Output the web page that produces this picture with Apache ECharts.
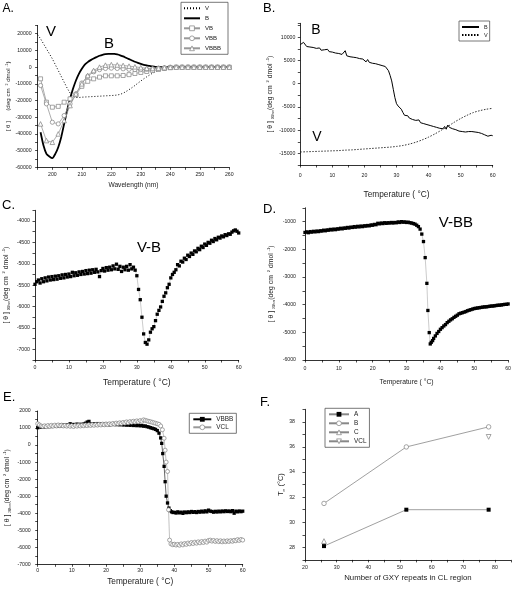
<!DOCTYPE html>
<html><head><meta charset="utf-8">
<script src="https://cdn.jsdelivr.net/npm/echarts@6/dist/echarts.min.js"></script>
<style>html,body{margin:0;padding:0;background:#fff}#c{width:514px;height:589px}</style>
</head><body><div id="c"></div>
<script>
const FONT = '"Liberation Sans", Arial, Helvetica, sans-serif';

// ---------- Panel A: CD spectra (wavelength nm) ----------
const aVStart = 195, aBStart = 196, aMarkStart = 196;
const aV = [19500,17000,14000,11000,8000,5000,1500,-2000,-5500,-9000,-12500,-15500,-17500,-18200,-18200,-18000,-17900,-17800,-17700,-17600,-17500,-17400,-17300,-17200,-17100,-17000,-16900,-16700,-16300,-15600,-14600,-13500,-12300,-11000,-9600,-8300,-7000,-5800,-4700,-3600,-2700,-1900,-1200,-700,-300,-100,0,0,0,0,0,0,0,0,0,0,0,0,0,0,0,0,0,0,0,0];
const aB = [-39000,-47000,-52000,-53500,-54500,-52000,-48000,-42000,-34000,-26000,-19000,-13000,-8000,-4000,-1000,1500,3000,4200,5200,6000,6800,7400,7800,8000,8000,7900,7600,7100,6400,5600,4800,4000,3200,2500,1900,1400,1000,700,400,200,100,0,0,0,0,0,0,0,0,0,0,0,0,0,0,0,0,0,0,0,0,0,0,0,0];
const aVB = [-7000,-21000,-24000,-23500,-21000,-19000,-16500,-11500,-8500,-7000,-6000,-5200,-5200,-5200,-5000,-4500,-3800,-3200,-2600,-2000,-1400,-800,-300,0,0,0,0,0,0,0,0,0,0];
const aVBB = [-11000,-22000,-33000,-34000,-29000,-22000,-16000,-9500,-5500,-2800,-1500,-800,-600,-800,-1000,-1300,-1500,-1500,-1300,-1000,-600,-300,0,0,0,0,0,0,0,0,0,0,0];
const aVBBB = [-34000,-44000,-45000,-40000,-32000,-23000,-16000,-10000,-5000,-2000,0,1200,1500,1300,1000,600,200,-300,-700,-800,-600,-300,-100,0,0,0,0,0,0,0,0,0,0];

// ---------- Panel B: thermal melts at 208 nm ----------
const bB = [8400,8300,8900,8500,8000,8200,7900,8100,7800,7900,
7600,7400,7700,7200,7500,7300,7100,7400,6900,7200,
6800,7000,6600,6900,6500,6700,6300,6600,7100,6000,
6200,5800,6100,5700,5900,5600,5800,5400,5700,5300,
5500,4700,5200,4600,4900,4400,4800,4300,4600,4100,
4500,3900,4200,3700,3500,2800,1800,600,-1200,-3000,
-4300,-4800,-5000,-5500,-6200,-6800,-7100,-6900,-7400,-7200,
-7700,-7500,-7900,-8100,-7800,-8400,-8200,-8600,-8300,-8800,
-8500,-9000,-8700,-9200,-8900,-9400,-9100,-9600,-9300,-9700,
-9200,-9800,-8900,-9400,-9200,-9700,-9400,-9900,-9600,-10200,
-9800,-10300,-10000,-10400,-10100,-10300,-9900,-10300,-10000,-10400,
-10200,-10500,-10400,-10700,-10600,-11000,-10800,-11300,-11700,-11100,
-11200];
const bV = [-14700,-14650,-14600,-14550,-14500,-14450,-14400,-14300,-14250,-14150,-14050,-13950,-13850,-13750,-13650,-13500,-13300,-13000,-12600,-12100,-11500,-10800,-10000,-9200,-8300,-7500,-6800,-6200,-5800,-5500,-5300];

// ---------- Panel C: V-B ----------
const cVB = [-5480,-5420,-5380,-5450,-5350,-5420,-5330,-5400,-5310,-5380,
-5300,-5370,-5290,-5360,-5280,-5340,-5260,-5330,-5250,-5310,
-5240,-5300,-5200,-5280,-5210,-5270,-5190,-5250,-5180,-5240,
-5160,-5230,-5150,-5220,-5140,-5200,-5130,-5190,-5300,-5160,
-5110,-5170,-5090,-5150,-5080,-5140,-5050,-5120,-5010,-5130,
-5060,-5180,-5080,-5140,-5060,-5150,-5020,-5120,-5080,-5150,
-5280,-5600,-5840,-6250,-6640,-6840,-6880,-6780,-6600,-6520,
-6470,-6330,-6180,-6090,-6010,-5880,-5760,-5680,-5560,-5480,
-5330,-5250,-5200,-5140,-5020,-5050,-4940,-4960,-4870,-4900,
-4800,-4830,-4750,-4780,-4700,-4720,-4640,-4670,-4590,-4620,
-4540,-4570,-4500,-4520,-4450,-4480,-4410,-4440,-4380,-4400,
-4350,-4370,-4320,-4340,-4300,-4310,-4260,-4230,-4210,-4240,
-4280];

// ---------- Panel D: V-BB ----------
const dPre = [-1390,-1370,-1400,-1360,-1380,-1350,-1370,-1340,-1360,-1330,
-1340,-1310,-1330,-1300,-1310,-1280,-1300,-1270,-1290,-1260,
-1270,-1240,-1260,-1230,-1240,-1210,-1230,-1200,-1210,-1180,
-1200,-1170,-1190,-1160,-1180,-1150,-1160,-1140,-1150,-1120,
-1130,-1100,-1110,-1060,-1080,-1050,-1070,-1040,-1060,-1040,
-1050,-1030,-1050,-1030,-1040,-1010,-1030,-1000,-1020,-1010,
-1030,-1020,-1040,-1050,-1070,-1090,-1130,-1180];
const dTransT = [34,34.5,35,35.5,36,36.3,36.7,37,37.3,37.7];
const dTransV = [-1270,-1450,-1720,-2300,-3230,-4210,-5010,-5420,-5360,-5300];
const dPost = [-5220,-5130,-5040,-4970,-4890,-4830,-4770,-4720,-4650,-4600,
-4550,-4510,-4460,-4420,-4380,-4330,-4310,-4290,-4270,-4250,
-4220,-4200,-4180,-4160,-4140,-4130,-4120,-4110,-4100,-4090,
-4080,-4080,-4070,-4060,-4050,-4050,-4040,-4030,-4020,-4020,
-4010,-4000,-3990,-3990,-3975];

// ---------- Panel E: VBBB vs VCL ----------
const eBPre = [1020,1080,1050,1100,1060,1120,1080,1130,1090,1140,
1110,1150,1120,1170,1130,1180,1150,1190,1160,1250,
1180,1210,1170,1230,1190,1220,1200,1240,1280,1350,
1390,1230,1210,1250,1230,1260,1220,1250,1210,1240,
1200,1230,1190,1240,1210,1250,1200,1230,1190,1220,
1180,1210,1170,1200,1160,1190,1150,1180,1140,1170,
1130,1150,1110,1120,1080,1060,1020,990,960];
const eBTransT = [34.5,35,35.5,36,36.3,36.6,37,37.3,37.6,38,38.4,38.8,39.2,39.6];
const eBTransV = [920,850,700,420,100,-500,-1250,-2150,-3000,-3400,-3700,-3850,-3920,-3960];
const eBPost = [-3950,-3990,-3920,-3980,-3940,-4010,-3930,-3970,-3920,-3960,
-3900,-3950,-3910,-3960,-3900,-3940,-3880,-3930,-3860,-3920,
-3820,-3880,-3900,-3940,-3890,-3930,-3880,-3920,-3870,-3910,
-3860,-3900,-3870,-3910,-3850,-4000,-3880,-3920,-3870,-3910,
-3880];
const eCPre = [1250,1180,1120,1090,1130,1080,1150,1100,1160,1110,
1170,1120,1180,1130,1170,1120,1160,1110,1150,1100,
1140,1090,1150,1110,1160,1120,1170,1130,1180,1140,
1190,1150,1200,1160,1210,1170,1220,1180,1230,1190,
1240,1200,1250,1210,1270,1230,1290,1250,1310,1270,
1330,1290,1360,1310,1380,1340,1400,1350,1420,1370,
1440,1400,1480,1450,1420,1390,1370,1340,1310,1280,1250];
const eCTransT = [35.5,36,36.5,37,37.3,37.6,38,38.3,38.6,39];
const eCTransV = [1220,1120,900,400,-300,-1000,-1550,-3800,-5580,-5800];
const eCPost = [-5850,-5820,-5870,-5830,-5880,-5800,-5860,-5780,-5830,-5750,
-5800,-5720,-5780,-5700,-5760,-5680,-5740,-5660,-5720,-5640,
-5700,-5600,-5580,-5640,-5600,-5660,-5610,-5670,-5620,-5680,
-5630,-5670,-5620,-5660,-5610,-5650,-5590,-5620,-5550,-5600,
-5540,-5580];

// ---------- Panel F: Tm vs repeats ----------
const fRepeats = [26, 52, 78];
const fA = [28.1, 31, 31];
const fB = [31.5, 36, 37.6];
const fCRepeats = [26];
const fC = [28.5];
const fVCLRepeats = [78];
const fVCL = [36.8];

// ---------- helpers ----------
function seq(start, step, vals) { return vals.map((v, i) => [+(start + i * step).toFixed(3), v]); }
function zip(xs, ys) { return xs.map((x, i) => [x, ys[i]]); }

const grids = [
  {left: 37.6, top: 25.4, width: 191.7, height: 141.9},
  {left: 300.3, top: 23.3, width: 192.4, height: 141.7},
  {left: 35, top: 210.3, width: 203.7, height: 149.7},
  {left: 305, top: 207.8, width: 206.7, height: 152.2},
  {left: 37.7, top: 411, width: 205, height: 153.3},
  {left: 305, top: 409.3, width: 205.8, height: 150.6}
];

function fmtEvery(every) {
  return v => (Math.abs(Math.round(v / every) * every - v) < 1e-6 ? String(v) : '');
}
const axisLine = {show: true, onZero: false, lineStyle: {color: '#000', width: 0.8}};
const axisTick = {show: true, inside: false, length: 2.5, lineStyle: {color: '#000', width: 0.7}};

function xAx(gi, min, max, interval, every, name, nameSize, nameGap, margin) {
  return {type: 'value', gridIndex: gi, min, max, interval, axisLine, axisTick,
    splitLine: {show: false},
    axisLabel: {fontSize: 5.2, color: '#222', fontFamily: FONT, margin, formatter: fmtEvery(every)},
    name, nameLocation: 'middle', nameGap,
    nameTextStyle: {fontSize: nameSize, color: '#222', fontFamily: FONT}};
}
function richFor(fs) {
  return {
    t: {fontSize: fs, fontFamily: FONT, color: '#222', lineHeight: fs * 1.3},
    sup: {fontSize: fs * 0.6, fontFamily: FONT, color: '#222', verticalAlign: 'top'},
    sub: {fontSize: fs * 0.45, fontFamily: FONT, color: '#222', verticalAlign: 'bottom'}
  };
}
function yAx(gi, min, max, interval, every, name, nameSize, nameGap, margin) {
  return {type: 'value', gridIndex: gi, min, max, interval, axisLine, axisTick,
    splitLine: {show: false},
    axisLabel: {fontSize: 5.2, color: '#222', fontFamily: FONT, margin, formatter: fmtEvery(every)},
    name, nameLocation: 'middle', nameGap, nameRotate: 90,
    nameTextStyle: {fontSize: nameSize, color: '#222', fontFamily: FONT, rich: richFor(nameSize)}};
}
const thetaName = '{t|[ θ ]}{t|      }{t|(deg cm }{sup| 2}{t| dmol }{sup|-1}{t|)}';
const thetaSubName = '{t|[ θ ]}{t| }{sub|208nm}{t|(deg cm }{sup| 2}{t| dmol }{sup|-1}{t|)}';
const tName = 'Temperature ( °C)';

const xAxis = [
  xAx(0, 195, 260, 5, 10, 'Wavelength (nm)', 6.6, 14, 5),
  xAx(1, 0, 60, 5, 10, tName, 8.3, 26, 8),
  xAx(2, 0, 60, 5, 10, tName, 8.5, 18, 5),
  xAx(3, 0, 60, 5, 10, tName, 6.8, 19, 6),
  xAx(4, 0, 60, 5, 10, tName, 8.3, 13, 4),
  xAx(5, 20, 85, 5, 10, 'Number of GXY repeats in CL region', 7.8, 14, 5)
];
const yAxis = [
  yAx(0, -60000, 25000, 5000, 10000, thetaName, 6.2, 19, 6),
  yAx(1, -17500, 13000, 2500, 5000, thetaSubName, 6.8, 26, 5),
  yAx(2, -7250, -3750, 250, 500, thetaSubName, 6.8, 24, 5),
  yAx(3, -6000, -500, 500, 1000, thetaSubName, 6.8, 29, 9),
  yAx(4, -7000, 2000, 500, 1000, thetaSubName, 6.8, 26, 7),
  yAx(5, 27, 39, 1, 2, '{t|T}{sub|m}{t| (°C)}', 7.5, 16, 10)
];

// hollow markers: white fill with thin grey outline
const hollow = {color: '#fff', borderColor: '#808080', borderWidth: 0.7};
const greyLine = {color: '#999', width: 0.8};
const series = [
  {name: 'A_V', type: 'line', xAxisIndex: 0, yAxisIndex: 0, data: seq(aVStart, 1, aV), symbol: 'none',
   lineStyle: {color: '#000', width: 1, type: [1, 2]}, itemStyle: {color: '#000'}},
  {name: 'A_B', type: 'line', xAxisIndex: 0, yAxisIndex: 0, data: seq(aBStart, 1, aB), symbol: 'none', smooth: 0.2,
   lineStyle: {color: '#000', width: 1.8}, itemStyle: {color: '#000'}},
  {name: 'A_VB', type: 'line', xAxisIndex: 0, yAxisIndex: 0, data: seq(aMarkStart, 2, aVB), symbol: 'rect', symbolSize: 4,
   lineStyle: greyLine, itemStyle: hollow},
  {name: 'A_VBB', type: 'line', xAxisIndex: 0, yAxisIndex: 0, data: seq(aMarkStart, 2, aVBB), symbol: 'circle', symbolSize: 4.2,
   lineStyle: greyLine, itemStyle: hollow},
  {name: 'A_VBBB', type: 'line', xAxisIndex: 0, yAxisIndex: 0, data: seq(aMarkStart, 2, aVBBB), symbol: 'triangle', symbolSize: 4.6,
   lineStyle: greyLine, itemStyle: hollow},

  {name: 'B_B', type: 'line', xAxisIndex: 1, yAxisIndex: 1, data: seq(0, 0.5, bB), symbol: 'none',
   lineStyle: {color: '#000', width: 1}, itemStyle: {color: '#000'}},
  {name: 'B_V', type: 'line', xAxisIndex: 1, yAxisIndex: 1, data: seq(0, 2, bV), symbol: 'none', smooth: 0.3,
   lineStyle: {color: '#000', width: 0.8, type: [1.5, 1.5]}, itemStyle: {color: '#000'}},

  {name: 'C_VB', type: 'line', xAxisIndex: 2, yAxisIndex: 2, data: seq(0, 0.5, cVB), symbol: 'rect', symbolSize: 3.3,
   lineStyle: {color: '#999', width: 0.5}, itemStyle: {color: '#000'}},

  {name: 'D_VBB', type: 'line', xAxisIndex: 3, yAxisIndex: 3,
   data: seq(0, 0.5, dPre).concat(zip(dTransT, dTransV), seq(38, 0.5, dPost)), symbol: 'rect', symbolSize: 3.3,
   lineStyle: {color: '#999', width: 0.5}, itemStyle: {color: '#000'}},

  {name: 'E_VBBB', type: 'line', xAxisIndex: 4, yAxisIndex: 4,
   data: seq(0, 0.5, eBPre).concat(zip(eBTransT, eBTransV), seq(40, 0.5, eBPost)), symbol: 'rect', symbolSize: 3.3,
   lineStyle: {color: '#000', width: 0.6}, itemStyle: {color: '#000'}},
  {name: 'E_VCL', type: 'line', xAxisIndex: 4, yAxisIndex: 4,
   data: seq(0, 0.5, eCPre).concat(zip(eCTransT, eCTransV), seq(39.5, 0.5, eCPost)), symbol: 'circle', symbolSize: 4,
   lineStyle: {color: '#999', width: 0.6}, itemStyle: hollow},

  {name: 'F_A', type: 'line', xAxisIndex: 5, yAxisIndex: 5, data: zip(fRepeats, fA), symbol: 'rect', symbolSize: 4,
   lineStyle: {color: '#888', width: 0.8}, itemStyle: {color: '#000'}},
  {name: 'F_B', type: 'line', xAxisIndex: 5, yAxisIndex: 5, data: zip(fRepeats, fB), symbol: 'circle', symbolSize: 4.5,
   lineStyle: {color: '#888', width: 0.8}, itemStyle: hollow},
  {name: 'F_C', type: 'line', xAxisIndex: 5, yAxisIndex: 5, data: zip(fCRepeats, fC), symbol: 'triangle', symbolSize: 4.8,
   lineStyle: {color: '#888', width: 0.8}, itemStyle: hollow},
  {name: 'F_VCL', type: 'line', xAxisIndex: 5, yAxisIndex: 5, data: zip(fVCLRepeats, fVCL), symbol: 'triangle', symbolRotate: 180, symbolSize: 4.8,
   lineStyle: {color: '#888', width: 0.8}, itemStyle: hollow}
];

function legend(left, top, names, itemWidth, itemGap, padding, fs) {
  return {left, top, orient: 'vertical', data: names, selectedMode: false,
    formatter: n => n.split('_')[1], itemWidth, itemHeight: 6, itemGap, padding,
    borderColor: '#555', borderWidth: 0.8, backgroundColor: '#fff',
    itemStyle: {borderWidth: 0.7},
    textStyle: {fontSize: fs, fontFamily: FONT, color: '#222'}};
}
const lineOnly = n => ({name: n, itemStyle: {opacity: 0}});
const legends = [
  legend(181, 2.3, [lineOnly('A_V'), lineOnly('A_B'), 'A_VB', 'A_VBB', 'A_VBBB'], 16, 4, [3, 7, 3, 2], 6),
  legend(459, 21, [lineOnly('B_B'), lineOnly('B_V')], 17, 2, [3, 2, 3, 2], 5.5),
  legend(189.3, 413.3, ['E_VBBB', 'E_VCL'], 18, 2, [3, 3, 3, 3], 6.4),
  legend(325, 408.3, ['F_A', 'F_B', 'F_C', 'F_VCL'], 20, 3, [3, 3, 3, 3], 6.4)
];

function txt(x, y, text, fs, align) {
  return {type: 'text', x, y, silent: true,
    style: {text, fontSize: fs, fontFamily: FONT, fill: '#000',
      textAlign: align || 'left', textVerticalAlign: 'middle', align: align || 'left', verticalAlign: 'middle'}};
}
const graphic = [
  txt(2.5, 8.5, 'A.', 12), txt(263, 8.5, 'B.', 13), txt(2, 205.3, 'C.', 13),
  txt(263, 209.3, 'D.', 13), txt(3, 397.3, 'E.', 13), txt(260, 402.7, 'F.', 13),
  txt(51, 32, 'V', 15, 'center'), txt(109, 44, 'B', 15, 'center'),
  txt(316, 30, 'B', 14, 'center'), txt(317, 137, 'V', 14, 'center'),
  txt(149, 247.5, 'V-B', 15, 'center'), txt(455.8, 222.5, 'V-BB', 15, 'center')
];

const chart = echarts.init(document.getElementById('c'), null, {renderer: 'canvas'});
chart.setOption({
  animation: false, backgroundColor: '#fff',
  textStyle: {fontFamily: FONT},
  grid: grids, xAxis, yAxis, series, legend: legends, graphic
});
</script></body></html>
